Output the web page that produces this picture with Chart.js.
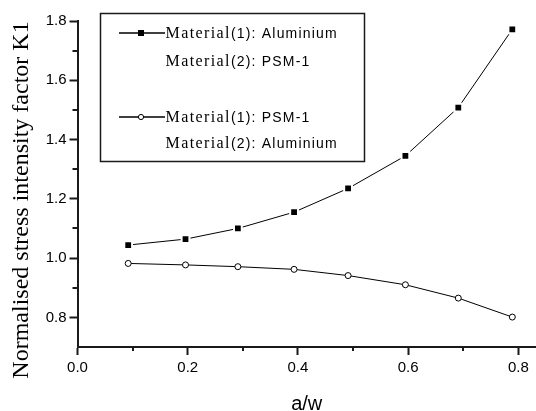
<!DOCTYPE html>
<html>
<head>
<meta charset="utf-8">
<script src="https://cdn.jsdelivr.net/npm/chart.js@4.4.1/dist/chart.umd.min.js"></script>
<style>
  html, body { margin: 0; padding: 0; background: #fff; }
  #wrap { width: 536px; height: 411px; }
</style>
</head>
<body>
<div id="wrap"><canvas id="c" width="536" height="411"></canvas></div>
<script>
// a/w positions and normalised K1 values
const AW = [0.092, 0.196, 0.291, 0.393, 0.491, 0.595, 0.691, 0.789];
const K1_AL_PSM = [1.044, 1.064, 1.100, 1.155, 1.235, 1.345, 1.508, 1.772];
const K1_PSM_AL = [0.982, 0.977, 0.971, 0.962, 0.941, 0.910, 0.865, 0.801];

const LEGEND_AL_PSM = ["Material(1): Aluminium", "Material(2): PSM-1"];
const LEGEND_PSM_AL = ["Material(1): PSM-1", "Material(2): Aluminium"];

const X_TICKS = [0.0, 0.2, 0.4, 0.6, 0.8];
const X_MINOR = [0.1, 0.3, 0.5, 0.7];
const Y_TICKS = [0.8, 1.0, 1.2, 1.4, 1.6, 1.8];
const Y_MINOR = [0.9, 1.1, 1.3, 1.5, 1.7];

const X_TITLE = "a/w";
const Y_TITLE = "Normalised stress intensity factor K1";

const AXIS = "#1a1a1a";
const SERIF = '"Liberation Serif", "Times New Roman", serif';
const SANS = '"Liberation Sans", Arial, sans-serif';

// minor ticks, y axis title and the boxed legend (mixed serif/sans text)
const extras = {
  id: "extras",
  afterDraw(chart) {
    const ctx = chart.ctx;
    const xs = chart.scales.x, ys = chart.scales.y;
    const area = chart.chartArea;

    ctx.save();
    ctx.strokeStyle = AXIS;
    ctx.lineWidth = 2;
    X_MINOR.forEach((v) => {
      const px = Math.round(xs.getPixelForValue(v));
      ctx.beginPath(); ctx.moveTo(px, area.bottom); ctx.lineTo(px, area.bottom + 4); ctx.stroke();
    });
    Y_MINOR.forEach((v) => {
      const py = Math.round(ys.getPixelForValue(v));
      ctx.beginPath(); ctx.moveTo(area.left, py); ctx.lineTo(area.left - 5, py); ctx.stroke();
    });
    ctx.restore();

    // y title
    ctx.save();
    ctx.fillStyle = "#000";
    ctx.font = "24px " + SERIF;
    ctx.textAlign = "center";
    ctx.textBaseline = "alphabetic";
    ctx.translate(28, 200);
    ctx.rotate(-Math.PI / 2);
    ctx.fillText(Y_TITLE, 0, 0);
    ctx.restore();

    // legend box
    ctx.save();
    ctx.fillStyle = "#fff";
    ctx.fillRect(100, 13, 264, 148);
    ctx.strokeStyle = AXIS;
    ctx.lineWidth = 1.5;
    ctx.strokeRect(100.5, 13.5, 264, 148);

    const rows = [[33, 61], [117, 143]];
    chart.data.datasets.forEach((ds, i) => {
      const y0 = rows[i][0];
      ctx.strokeStyle = "#000";
      ctx.lineWidth = 1.5;
      ctx.beginPath(); ctx.moveTo(119, y0); ctx.lineTo(165, y0); ctx.stroke();
      if (ds.pointStyle === "rect") {
        ctx.fillStyle = "#000";
        ctx.fillRect(138, y0 - 3, 6, 6);
      } else {
        ctx.fillStyle = "#fff";
        ctx.lineWidth = 1;
        ctx.beginPath(); ctx.arc(141, y0, 2.6, 0, Math.PI * 2); ctx.fill(); ctx.stroke();
      }
      ds.label.forEach((line, j) => {
        const base = rows[i][j] + 5;
        const m = line.match(/^(Material)(.*)$/);
        ctx.fillStyle = "#000";
        ctx.textBaseline = "alphabetic";
        ctx.textAlign = "left";
        ctx.font = "16px " + SERIF;
        ctx.letterSpacing = "1.4px";
        ctx.fillText(m[1], 165.5, base);
        const w = ctx.measureText(m[1]).width;
        ctx.font = "14px " + SANS;
        ctx.letterSpacing = "1.2px";
        ctx.fillText(m[2], 165.5 + w, base);
        ctx.letterSpacing = "0px";
      });
    });
    ctx.restore();
  },
};

new Chart(document.getElementById("c"), {
  type: "line",
  data: {
    datasets: [
      {
        label: LEGEND_AL_PSM,
        data: AW.map((x, i) => ({ x, y: K1_AL_PSM[i] })),
        borderColor: "#000",
        borderWidth: 1,
        tension: 0,
        pointStyle: "rect",
        pointRadius: 5.5,
        pointBackgroundColor: "#000",
        pointBorderColor: "#fff",
        pointBorderWidth: 2,
      },
      {
        label: LEGEND_PSM_AL,
        data: AW.map((x, i) => ({ x, y: K1_PSM_AL[i] })),
        borderColor: "#000",
        borderWidth: 1,
        tension: 0,
        pointStyle: "circle",
        pointRadius: 3,
        pointBackgroundColor: "#fff",
        pointBorderColor: "#000",
        pointBorderWidth: 1,
      },
    ],
  },
  options: {
    responsive: false,
    animation: false,
    layout: { autoPadding: false, padding: { top: 21, right: 0, left: 0, bottom: 0 } },
    plugins: { legend: { display: false }, tooltip: { enabled: false } },
    scales: {
      x: {
        type: "linear",
        min: 0,
        max: 0.832,
        afterBuildTicks: (s) => { s.ticks = X_TICKS.map((v) => ({ value: v })); },
        afterFit: (s) => { s.height = 64; s.paddingLeft = 0; s.paddingRight = 0; },
        border: { display: true, color: AXIS, width: 2 },
        grid: { display: true, drawOnChartArea: false, drawTicks: true, tickLength: 8, tickWidth: 2, tickColor: AXIS },
        ticks: { color: "#000", padding: 4, font: { family: SANS, size: 15 }, callback: (v) => v.toFixed(1), maxRotation: 0 },
        title: { display: true, text: X_TITLE, color: "#000", font: { family: SANS, size: 20 }, padding: { top: 0, bottom: -5 } },
      },
      y: {
        type: "linear",
        min: 0.7,
        max: 1.8,
        afterBuildTicks: (s) => { s.ticks = Y_TICKS.map((v) => ({ value: v })); },
        afterFit: (s) => { s.width = 77.5; s.paddingTop = 0; s.paddingBottom = 0; },
        border: { display: true, color: AXIS, width: 2 },
        grid: { display: true, drawOnChartArea: false, drawTicks: true, tickLength: 8, tickWidth: 2, tickColor: AXIS },
        ticks: { color: "#000", padding: 3, font: { family: SANS, size: 15 }, callback: (v) => v.toFixed(1) },
      },
    },
  },
  plugins: [extras],
});
</script>
</body>
</html>
